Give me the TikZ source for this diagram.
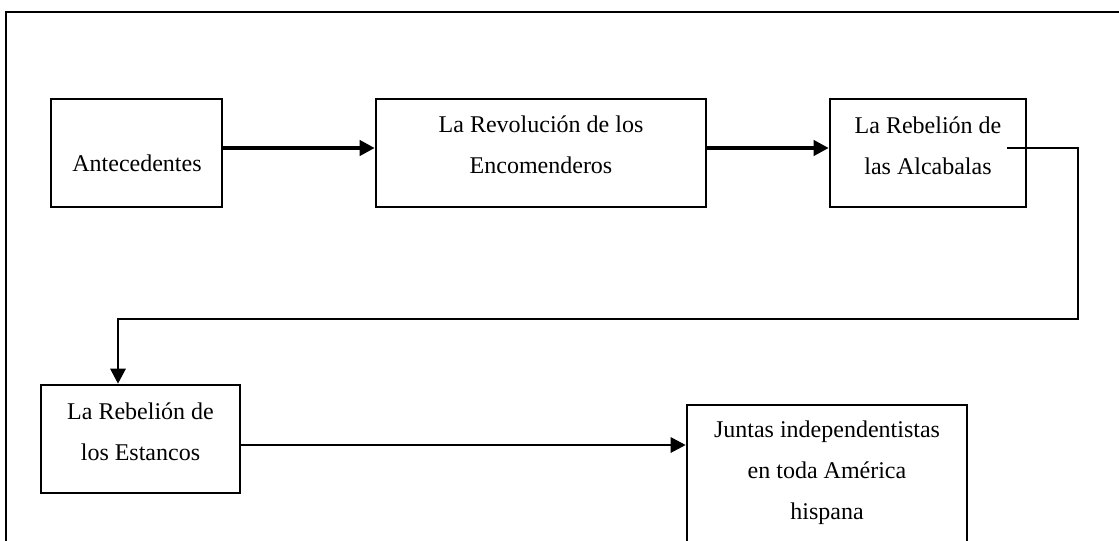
\documentclass[tikz,border=0pt]{standalone}
\usepackage{fontspec}
\setmainfont{Liberation Serif}
\usetikzlibrary{arrows.meta}
\begin{document}
\begin{tikzpicture}[x=0.75pt,y=-0.75pt,
  box/.style={draw=black,line width=1.9pt,fill=none,inner sep=0pt,rectangle},
  txt/.style={align=center,inner sep=0pt,anchor=base,font=\fontsize{18pt}{30.75pt}\selectfont},
  frame/.style={draw=black,line width=1.7pt},
  thickarrow/.style={line width=2.9pt,-{Triangle[length=11.25pt,width=11.25pt]}},
  thinarrow/.style={line width=2.1pt,-{Triangle[length=11.25pt,width=11.25pt]}},
  thinline/.style={line width=2.1pt,line join=miter}]
\clip (0,0) rectangle (1119,540);
\fill[white] (0,0) rectangle (1119,540);
% outer frame (extends past the right and bottom edges)
\draw[frame] (6,560) -- (6,12) -- (1130,12);
% boxes
\node[box,minimum width=171*0.75pt,minimum height=108*0.75pt] (ante) at (136.5,153) {};
\node[box,minimum width=330*0.75pt,minimum height=108*0.75pt] (rev) at (541,153) {};
\node[box,minimum width=196*0.75pt,minimum height=108*0.75pt] (alc) at (928,153) {};
\node[box,minimum width=199*0.75pt,minimum height=108*0.75pt] (est) at (140.5,439) {};
\node[box,minimum width=280*0.75pt,minimum height=160*0.75pt] (jun) at (827,485) {};
% texts (base anchor = baseline of the last line)
\node[txt] (tante) at (137,171) {Antecedentes};
\node[txt] (trev) at (541,173) {La Revolución de los\\Encomenderos};
\node[txt] (talc) at (928,174) {La Rebelión de\\las Alcabalas};
\node[txt] (test) at (140.5,460) {La Rebelión de\\los Estancos};
\node[txt] (tjun) at (827,519) {Juntas independentistas\\en toda América\\hispana};
% connectors
\draw[thickarrow] ([yshift=3.75pt]ante.east) -- ([yshift=3.75pt]rev.west);
\draw[thickarrow] ([yshift=3.75pt]rev.east) -- ([yshift=3.75pt]alc.west);
\coordinate (c1) at (1007,148);
\coordinate (c2) at (1078,148);
\coordinate (c3) at (1078,319);
\coordinate (c4) at (118,319);
\draw[thinline,thinarrow] (c1) -- (c2) -- (c3) -- (c4) -- (c4 |- est.north);
\coordinate (e1) at ([yshift=-4.5pt]est.east);
\draw[thinarrow] (e1) -- (jun.west |- e1);
\end{tikzpicture}
\end{document}
